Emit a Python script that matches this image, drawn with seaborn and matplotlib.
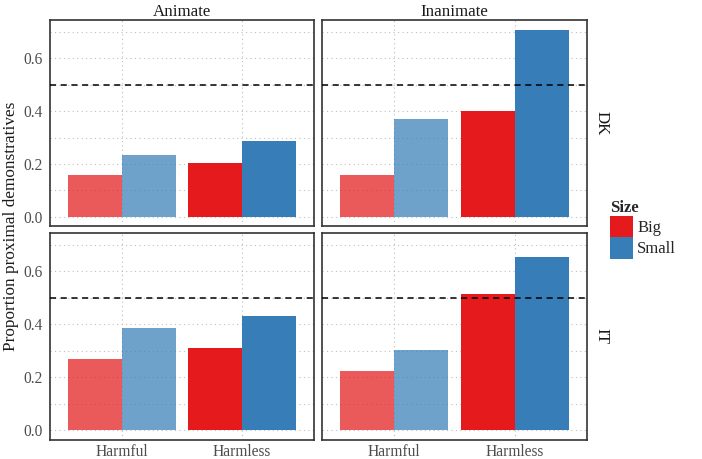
import numpy as np
import pandas as pd
import matplotlib
matplotlib.use("Agg")
import matplotlib.pyplot as plt
from matplotlib.patches import Patch
from matplotlib.ticker import MultipleLocator
import seaborn as sns

# values
languages = ["DK", "IT"]
animacy = ["Animate", "Inanimate"]
harm = ["Harmful", "Harmless"]
sizes = ["Big", "Small"]

# order: Harmful-Big, Harmful-Small, Harmless-Big, Harmless-Small
dk_animate = [0.158, 0.232, 0.203, 0.287]
dk_inanimate = [0.158, 0.371, 0.402, 0.706]
it_animate = [0.269, 0.386, 0.309, 0.431]
it_inanimate = [0.225, 0.303, 0.513, 0.655]

palette = {"Big": "#E41A1C", "Small": "#377EB8"}

rows = []
for lang, anim, vals in [("DK", "Animate", dk_animate), ("DK", "Inanimate", dk_inanimate),
                         ("IT", "Animate", it_animate), ("IT", "Inanimate", it_inanimate)]:
    i = 0
    for h in harm:
        for s in sizes:
            rows.append({"Language": lang, "Animacy": anim, "Harm": h, "Size": s, "Prop": vals[i]})
            i += 1
df = pd.DataFrame(rows)

sns.set_style("white")
plt.rcParams["font.family"] = ["Liberation Serif", "DejaVu Serif"]

fig = plt.figure(figsize=(7.02, 4.59), dpi=100)
W, H = 702.0, 459.0
cols_px = [(49.5, 314.0), (322.0, 587.0)]
rows_px = [(20.0, 226.0), (233.0, 439.5)]

for r, lang in enumerate(languages):
    for c, anim in enumerate(animacy):
        x0, x1 = cols_px[c]
        y0, y1 = rows_px[r]
        ax = fig.add_axes([x0 / W, 1 - y1 / H, (x1 - x0) / W, (y1 - y0) / H])
        sub = df[(df.Language == lang) & (df.Animacy == anim)]
        sns.barplot(data=sub, x="Harm", y="Prop", hue="Size", order=harm, hue_order=sizes,
                    palette=palette, width=0.9, saturation=1, linewidth=0, legend=False,
                    errorbar=None, ax=ax, zorder=3)
        for p in ax.patches:
            cx = p.get_x() + p.get_width() / 2
            if cx < 0.5:
                p.set_alpha(0.72)
        ax.set_xlim(-0.6, 1.6)
        ax.set_ylim(-0.0355, 0.7455)
        ax.yaxis.set_major_locator(MultipleLocator(0.2))
        ax.yaxis.set_minor_locator(MultipleLocator(0.1))
        ax.grid(True, which="both", axis="y", linestyle=(0, (1, 3)), color="#BDBDBD", linewidth=0.8, zorder=0)
        ax.grid(True, which="major", axis="x", linestyle=(0, (1, 3)), color="#BDBDBD", linewidth=0.8, zorder=0)
        ax.set_axisbelow(True)
        ax.axhline(0.5, color="black", linestyle=(0, (4, 3)), linewidth=1.1, zorder=4)
        for sp in ax.spines.values():
            sp.set_color("#333333")
            sp.set_linewidth(1.2)
        ax.set_xlabel("")
        ax.set_ylabel("")
        ax.tick_params(axis="both", which="major", length=3, width=0.8, color="#333333",
                       labelsize=11.2, labelcolor="#4D4D4D", pad=1.5)
        ax.tick_params(axis="x", which="major", pad=0.5)
        ax.tick_params(axis="y", which="minor", length=0)
        ax.set_yticks([0.0, 0.2, 0.4, 0.6])
        ax.set_yticklabels(["0.0", "0.2", "0.4", "0.6"])
        if c == 1:
            ax.tick_params(axis="y", which="major", left=False, labelleft=False)
            ax.text(1.025, 0.5, lang, transform=ax.transAxes, rotation=270, va="center",
                    ha="left", fontsize=12.2, color="#1A1A1A")
        if r == 0:
            ax.tick_params(axis="x", bottom=False, labelbottom=False)
            ax.set_title(anim, fontsize=12.2, color="#1A1A1A", pad=3)

fig.text(11 / W, 1 - 226 / H, "Proportion proximal demonstratives", rotation=90, va="center",
         ha="center", fontsize=12.4, color="#1A1A1A")

handles = [Patch(facecolor=palette[s], edgecolor="none", label=s) for s in sizes]
leg = fig.legend(handles=handles, title="Size", loc="upper left", bbox_to_anchor=(603 / W, 1 - 193 / H),
                 frameon=False, fontsize=12, title_fontsize=12, handlelength=1.4, handleheight=1.6,
                 labelspacing=0.0, handletextpad=0.25, borderaxespad=0)
leg.get_title().set_fontweight("bold")
leg._legend_box.align = "left"

fig.savefig("out.png", dpi=100)
